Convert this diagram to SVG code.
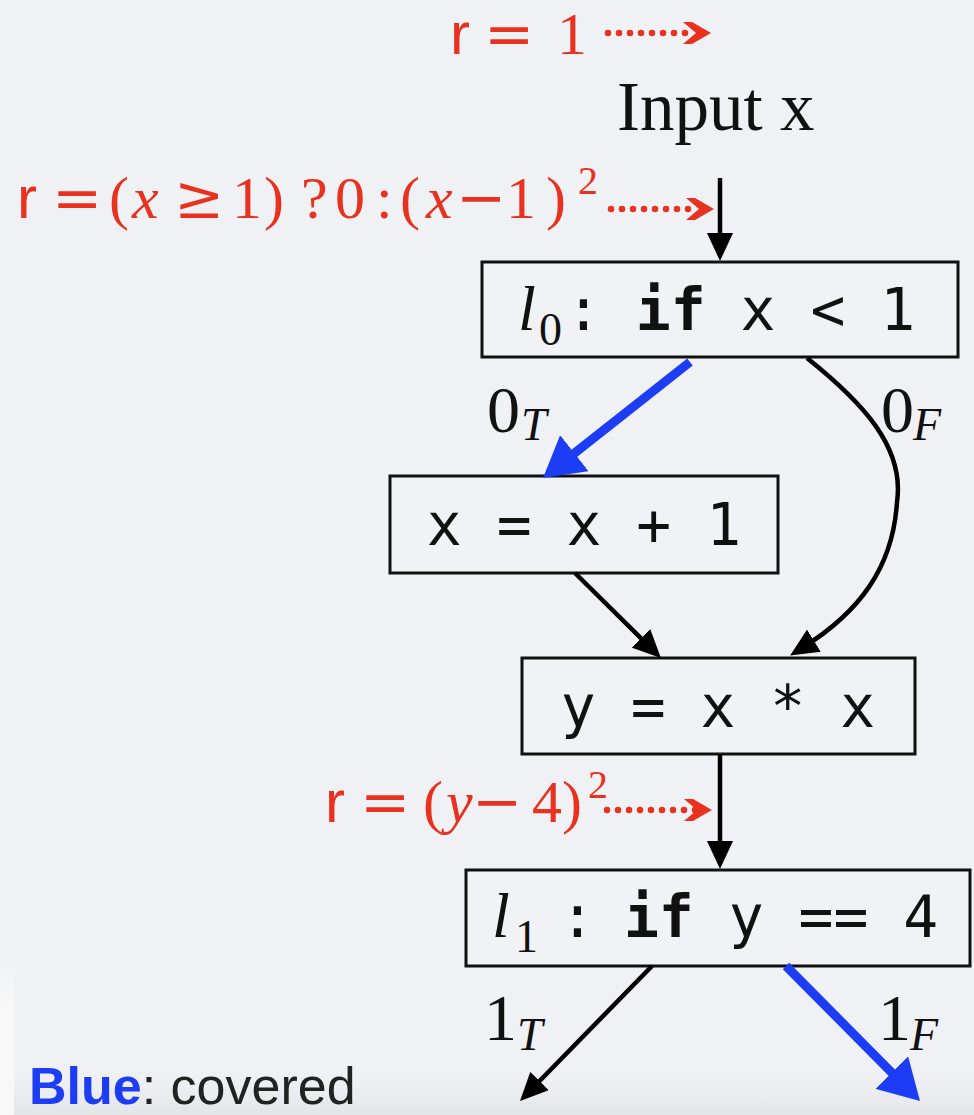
<svg xmlns="http://www.w3.org/2000/svg" width="974" height="1115" viewBox="0 0 974 1115">
<style>
text{white-space:pre}
.red{fill:#e8321f}
.serif{font-family:"Liberation Serif","Times New Roman",serif}
.sans{font-family:"Liberation Sans",Arial,sans-serif}
.op{font-family:"DejaVu Serif",serif}
.it{font-family:"Liberation Serif","Times New Roman",serif;font-style:italic}
.box{fill:#f0f2f5;stroke:#111;stroke-width:3}
.edge{fill:none;stroke:#000;stroke-width:4.5}
.blue{fill:none;stroke:#1d3df5;stroke-width:9}
.dots{fill:none;stroke:#e8321f;stroke-width:6.5;stroke-linecap:round;stroke-dasharray:0 11}
.code{font-family:"DejaVu Sans Mono",monospace;font-size:58px;fill:#111}
.lbl{font-size:66px;fill:#111}
</style>
<defs>
<marker id="ah" markerUnits="userSpaceOnUse" viewBox="0 0 28 26" markerWidth="28" markerHeight="26" refX="14" refY="13" orient="auto">
<path d="M0,0 L28,13 L0,26 Z" fill="#000"/>
</marker>
<marker id="ahb" markerUnits="userSpaceOnUse" viewBox="0 0 40 46" markerWidth="40" markerHeight="46" refX="20" refY="23" orient="auto">
<path d="M0,0 L40,23 L0,46 Z" fill="#1d3df5"/>
</marker>
<marker id="ahr" markerUnits="userSpaceOnUse" viewBox="0 0 28 22" markerWidth="28" markerHeight="22" refX="13" refY="11" orient="auto">
<path d="M0,0 L9,0 L28,11 L9,22 L0,22 L13,11 Z" fill="#e8321f"/>
</marker>
<linearGradient id="bot" x1="0" y1="0" x2="0" y2="1">
<stop offset="0" stop-color="#eff1f4" stop-opacity="0"/>
<stop offset="1" stop-color="#e2e4e7"/>
</linearGradient>
<linearGradient id="left" x1="0" y1="0" x2="0" y2="1">
<stop offset="0" stop-color="#f8f8f8" stop-opacity="0"/>
<stop offset="0.3" stop-color="#f8f8f8"/>
<stop offset="1" stop-color="#f8f8f8"/>
</linearGradient>
</defs>
<rect width="974" height="1115" fill="#eff1f4"/>
<rect x="0" y="1060" width="974" height="55" fill="url(#bot)"/>
<rect x="0" y="960" width="14" height="155" fill="url(#left)"/>

<g id="annotations">
<text y="54" class="red" font-size="60"><tspan class="sans" x="450">r</tspan><tspan class="op" x="484">=</tspan><tspan class="serif" x="557">1</tspan></text>
<text y="218" class="red" font-size="60"><tspan class="sans" x="17">r</tspan><tspan class="op" x="52">=</tspan><tspan class="serif" x="109">(</tspan><tspan class="it" x="132">x</tspan><tspan class="op" x="174">≥</tspan><tspan class="serif" x="232">1</tspan><tspan class="serif" x="264">)</tspan><tspan class="serif" x="301">?</tspan><tspan class="serif" x="335">0</tspan><tspan class="serif" x="376">:</tspan><tspan class="serif" x="400">(</tspan><tspan class="it" x="426">x</tspan><tspan class="op" x="456">−</tspan><tspan class="serif" x="506">1</tspan><tspan class="serif" x="546">)</tspan><tspan class="serif" x="578" y="194" font-size="40">2</tspan></text>
<text y="822" class="red" font-size="60"><tspan class="sans" x="325">r</tspan><tspan class="op" x="360">=</tspan><tspan class="serif" x="423">(</tspan><tspan class="it" x="446">y</tspan><tspan class="op" x="472">−</tspan><tspan class="serif" x="532">4</tspan><tspan class="serif" x="562">)</tspan><tspan class="serif" x="588" y="798" font-size="40">2</tspan></text>
<text x="29" y="1104" class="sans" font-size="52"><tspan font-weight="bold" fill="#1d3df5">Blue</tspan><tspan fill="#222">: covered</tspan></text>
</g>

<g id="input">
<text x="617" y="130" class="serif" font-size="69" fill="#111">Input x</text>
</g>

<g id="l0">
<rect class="box" x="482" y="262" width="476" height="95"/>
<text y="330" class="code"><tspan class="it" x="518" font-size="64">l</tspan><tspan class="serif" x="539" y="345" font-size="46">0</tspan><tspan x="566" y="330">: </tspan><tspan font-weight="bold">if</tspan><tspan> x &lt; 1</tspan></text>
</g>

<g id="inc">
<rect class="box" x="390" y="476" width="388" height="97"/>
<text x="584" y="545" class="code" text-anchor="middle">x = x + 1</text>
</g>

<g id="sq">
<rect class="box" x="522" y="658" width="393" height="96"/>
<text x="718" y="727" class="code" text-anchor="middle">y = x * x</text>
</g>

<g id="l1">
<rect class="box" x="466" y="870" width="504" height="96"/>
<text y="937" class="code"><tspan class="it" x="492" font-size="64">l</tspan><tspan class="serif" x="515" y="952" font-size="46">1</tspan><tspan x="560" y="937">:</tspan><tspan x="589"> </tspan><tspan font-weight="bold">if</tspan><tspan> y == 4</tspan></text>
</g>

<g id="labels">
<text y="432" class="lbl"><tspan class="serif" x="487">0</tspan><tspan class="it" x="521" y="440" font-size="46">T</tspan></text>
<text y="432" class="lbl"><tspan class="serif" x="881">0</tspan><tspan class="it" x="913" y="440" font-size="46">F</tspan></text>
<text y="1040" class="lbl"><tspan class="serif" x="484">1</tspan><tspan class="it" x="517" y="1050" font-size="46">T</tspan></text>
<text y="1040" class="lbl"><tspan class="serif" x="878">1</tspan><tspan class="it" x="910" y="1050" font-size="46">F</tspan></text>
</g>

<g id="connectors">
<line class="dots" x1="608" y1="33" x2="696" y2="33" marker-end="url(#ahr)"/>
<line class="dots" x1="611" y1="209" x2="699" y2="209" marker-end="url(#ahr)"/>
<line class="dots" x1="607" y1="810" x2="697" y2="810" marker-end="url(#ahr)"/>
<line class="edge" x1="720" y1="178" x2="720" y2="247" marker-end="url(#ah)"/>
<line class="blue" x1="690" y1="362" x2="558.7" y2="465.6" marker-end="url(#ahb)"/>
<path class="edge" d="M807,358 C862,402 905,447 897,502 C893,567 860,612 802,648" marker-end="url(#ah)"/>
<line class="edge" x1="575" y1="573" x2="651" y2="648.2" marker-end="url(#ah)"/>
<line class="edge" x1="720" y1="754" x2="720" y2="855" marker-end="url(#ah)"/>
<line class="edge" x1="652" y1="966" x2="529.8" y2="1091" marker-end="url(#ah)"/>
<line class="blue" x1="786" y1="966" x2="905.9" y2="1086.8" marker-end="url(#ahb)"/>
</g>
</svg>
